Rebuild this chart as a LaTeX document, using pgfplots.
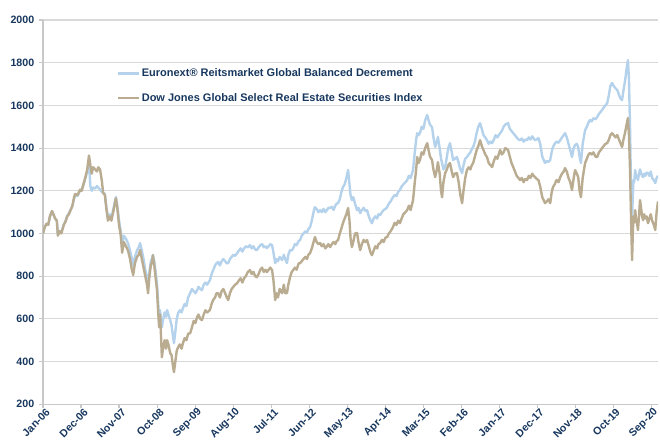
\documentclass[border=0pt]{standalone}
\usepackage{fontspec}
\setmainfont{Liberation Sans}
\usepackage{pgfplots}
\pgfplotsset{compat=1.18}
\definecolor{navy}{RGB}{23,55,94}
\definecolor{eublue}{RGB}{180,210,235}
\definecolor{djtan}{RGB}{185,172,145}
\definecolor{gridgray}{RGB}{217,217,217}
\definecolor{axgray}{RGB}{200,200,200}
\begin{document}
\begin{tikzpicture}
\begin{axis}[
  name=ax,
  scale only axis,
  width=461pt, height=288pt,
  xmin=0, xmax=178, ymin=200, ymax=2000,
  axis x line=bottom, axis y line=left,
  axis line style={-, axgray, line width=1pt},
  tick style={axgray, line width=0.8pt},
  tick align=outside, major tick length=3pt,
  ytick={200,400,...,2000},
  xtick={0,11,...,176},
  xticklabels={Jan-06,Dec-06,Nov-07,Oct-08,Sep-09,Aug-10,Jul-11,Jun-12,May-13,Apr-14,Mar-15,Feb-16,Jan-17,Dec-17,Nov-18,Oct-19,Sep-20},
  xticklabel style={rotate=45, anchor=east, inner sep=1pt, xshift=2.5pt, yshift=-4pt},
  ymajorgrids, major grid style={gridgray, line width=0.8pt},
  /pgf/number format/assume math mode=true,
  /pgf/number format/1000 sep={},
  tick label style={font=\bfseries\fontsize{8}{9}\selectfont, text=navy},
  legend style={at={(rel axis cs:0.12,0.878)}, anchor=north west, draw=none, fill=none,
    font=\bfseries\fontsize{8.25}{9}\selectfont, text=navy, row sep=9pt, inner sep=0pt,
    nodes={inner sep=1pt}},
  legend cell align=left,
  legend image code/.code={\draw[#1, line width=1.6pt] (0cm,0cm) -- (0.56cm,0cm);},
  every axis plot/.append style={line width=1.8pt, line join=round},
]
\addplot[eublue] coordinates {
(0,1000) (0.5,1030) (1,1045) (1.5,1040) (2,1080) (2.6,1105) (3,1090) (3.5,1070) (4,1060) (4.3,992) (4.8,1012) (5.3,1004)
(6,1042) (6.5,1058) (7,1082) (7.5,1094) (8,1112) (8.5,1128) (9,1165) (9.3,1175) (10,1176) (10.7,1200) (11.2,1205) (11.7,1228)
(12.2,1255) (12.8,1290) (13.3,1335) (13.7,1220) (14.1,1200) (14.5,1215) (15.1,1210) (15.6,1222) (16,1215) (16.5,1205) (17,1195)
(17.4,1190) (17.9,1185) (18.3,1130) (18.8,1070) (19.3,1090) (19.8,1075) (20.3,1110) (20.8,1150) (21.1,1170) (21.5,1130)
(22,1060) (22.5,1010) (22.9,950) (23.4,990) (24,975) (24.6,955) (25.2,920) (25.6,890) (26.1,850) (26.6,890) (27.2,920)
(27.7,935) (28.1,955) (28.6,920) (29.1,880) (29.6,830) (30.1,790) (30.4,760) (30.8,820) (31.2,870) (31.6,884) (31.8,900)
(32.2,870) (32.6,820) (33.0,760) (33.3,680) (33.6,608) (33.9,640) (34.1,600) (34.4,561) (34.8,600) (35.2,630) (35.6,610)
(35.9,641) (36.3,620) (36.8,594) (37.2,570) (37.6,520) (37.9,486) (38.3,540) (38.7,600) (39.1,627) (39.6,640) (40.1,630)
(40.5,650) (41,670) (41.5,660) (42,700) (42.6,720) (43.1,740) (43.6,730) (44.1,720) (44.6,734) (45,750) (45.5,740) (46,734)
(46.5,760) (47,770) (47.5,760) (48.3,781) (48.8,810) (49.3,830) (49.8,850) (50.2,860) (50.7,866) (51.2,850) (51.7,870)
(52.2,880) (52.7,870) (53.2,860) (53.6,861) (54.1,880) (54.6,890) (55.1,900) (55.6,895) (56.2,908) (56.7,920) (57.2,930)
(57.7,915) (58.2,930) (58.7,940) (59.3,935) (59.9,945) (60.4,930) (60.9,940) (61.4,925) (61.9,922) (62.4,935) (62.9,945)
(63.4,950) (63.9,935) (64.4,940) (64.8,931) (65.3,940) (65.8,950) (66.3,945) (66.7,910) (67.2,861) (67.6,880) (68,870)
(68.5,890) (69.2,875) (69.7,900) (70.1,880) (70.6,861) (71,900) (71.5,922) (72,920) (72.4,930) (72.9,950) (73.4,945)
(74,965) (74.4,969) (74.9,990) (75.4,1000) (75.9,1010) (76.4,1005) (76.8,1020) (77.3,1030) (77.8,1060) (78.3,1100)
(78.7,1123) (79.2,1115) (79.7,1100) (80.2,1109) (80.7,1100) (81.2,1115) (81.7,1100) (82.2,1110) (82.6,1120) (83.1,1119)
(83.6,1125) (84.1,1110) (84.6,1130) (85,1140) (85.4,1142) (85.9,1160) (86.3,1190) (86.8,1217) (87.3,1230) (87.8,1260)
(88.3,1297) (88.7,1230) (89,1180) (89.4,1156) (89.8,1170) (90.3,1140) (90.9,1109) (91.3,1120) (91.8,1095) (92.3,1110)
(92.8,1120) (93.3,1105) (93.8,1109) (94.3,1080) (94.8,1060) (95.2,1048) (95.7,1070) (96.2,1080) (96.7,1070) (97.1,1090)
(97.6,1086) (98.1,1100) (98.6,1110) (99.1,1115) (99.6,1123) (100.1,1140) (100.6,1150) (101.3,1170) (101.8,1180)
(102.3,1175) (102.8,1195) (103.3,1203) (103.8,1220) (104.3,1230) (104.9,1240) (105.4,1250) (105.9,1270) (106.4,1260)
(107.1,1297) (107.6,1380) (108,1440) (108.3,1470) (108.7,1460) (109.1,1470) (109.6,1500) (110.1,1490) (110.6,1530)
(111.2,1555) (111.6,1530) (112,1510) (112.6,1498) (113,1450) (113.5,1405) (114,1430) (114.3,1452) (114.8,1400)
(115.2,1350) (115.5,1330) (115.9,1300) (116.4,1311) (116.9,1360) (117.3,1400) (117.8,1423) (118.3,1380) (118.7,1344)
(119.2,1350) (119.8,1358) (120.3,1330) (120.8,1300) (121.3,1283) (121.7,1320) (122.2,1350) (122.7,1358) (123.2,1370)
(123.7,1380) (124.1,1395) (124.5,1405) (125,1430) (125.5,1470) (126,1500) (126.5,1517) (127,1490) (127.5,1460)
(128,1450) (128.5,1437) (129,1420) (129.5,1430) (130,1423) (130.5,1440) (131,1460) (131.5,1450) (132.3,1470)
(132.8,1480) (133.3,1500) (133.8,1510) (134.6,1517) (135.1,1490) (135.6,1480) (136.1,1470) (136.6,1460) (137.1,1450)
(137.6,1440) (138.1,1437) (138.6,1445) (139.1,1430) (139.6,1440) (140.1,1437) (140.6,1450) (141.1,1440) (141.6,1455)
(142,1445) (142.4,1437) (142.9,1440) (143.4,1447) (143.9,1420) (144.5,1360) (145.3,1330) (145.8,1340) (146.3,1335)
(146.8,1344) (147.2,1380) (147.6,1405) (148.1,1420) (148.6,1430) (149.2,1425) (149.7,1437) (150.2,1450) (150.7,1460)
(151.1,1470) (151.6,1450) (152.1,1420) (152.6,1390) (153.1,1358) (153.6,1400) (154.0,1414) (154.5,1420) (154.9,1405)
(155.3,1360) (155.7,1330) (156.2,1420) (156.9,1484) (157.4,1500) (157.9,1520) (158.3,1531) (158.8,1525) (159.3,1540)
(159.9,1535) (160.4,1545) (160.9,1560) (161.4,1570) (161.8,1578) (162.3,1590) (162.8,1600) (163.3,1611) (163.8,1650)
(164.2,1690) (164.7,1705) (165.2,1690) (165.7,1680) (166.2,1672) (166.7,1650) (167.2,1630) (167.6,1625) (168.0,1670)
(168.5,1719) (168.9,1770) (169.3,1812) (169.6,1720) (169.9,1500) (170.1,1300) (170.3,1150) (170.5,1060) (170.7,1180)
(170.9,1250) (171.1,1240) (171.4,1297) (171.7,1260) (172.0,1270) (172.2,1250) (172.5,1280) (172.8,1300) (173.1,1283)
(173.4,1270) (173.7,1264) (174.0,1280) (174.3,1270) (174.7,1285) (175.1,1283) (175.5,1270) (175.9,1290) (176.3,1260)
(176.8,1250) (177.2,1236) (177.6,1260) (178.0,1270)
};
\addlegendentry{Euronext\textregistered{} Reitsmarket Global Balanced Decrement}
\addplot[djtan] coordinates {
(0,1000) (0.5,1030) (1,1045) (1.5,1040) (2,1080) (2.6,1105) (3,1090) (3.5,1070) (4,1060) (4.3,990) (4.8,1010) (5.3,1000)
(6,1040) (6.5,1055) (7,1080) (7.5,1090) (8,1110) (8.5,1130) (9,1170) (9.3,1185) (10,1180) (10.7,1205) (11.2,1200) (11.7,1230)
(12.2,1260) (12.8,1300) (13.3,1365) (13.7,1320) (14.1,1280) (14.5,1310) (15.1,1300) (15.6,1290) (16,1310) (16.5,1300)
(17,1250) (17.4,1190) (17.9,1180) (18.3,1120) (18.8,1060) (19.3,1080) (19.8,1060) (20.3,1100) (20.8,1140) (21.1,1165)
(21.5,1120) (22,1040) (22.5,990) (22.9,910) (23.4,960) (24,940) (24.6,920) (25.2,880) (25.6,840) (26.1,805) (26.6,860)
(27.2,890) (27.7,900) (28.1,922) (28.6,880) (29.1,840) (29.6,800) (30.1,760) (30.4,720) (30.8,800) (31.2,850) (31.6,870)
(31.8,898) (32.2,850) (32.6,790) (33.0,734) (33.3,640) (33.6,561) (33.9,620) (34.1,540) (34.4,420) (34.8,470) (35.2,500)
(35.6,460) (35.9,500) (36.3,480) (36.8,440) (37.2,430) (37.6,380) (37.9,350) (38.3,400) (38.7,450) (39.1,467) (39.6,480)
(40.1,460) (40.5,486) (41,510) (41.5,500) (42,530) (42.6,533) (43.1,560) (43.6,590) (44.1,580) (44.6,608) (45,620)
(45.5,600) (46,594) (46.5,620) (47,640) (47.5,630) (48.3,641) (48.8,670) (49.3,690) (49.8,700) (50.2,720) (50.7,720)
(51.2,700) (51.7,730) (52.2,740) (52.7,720) (53.2,700) (53.6,688) (54.1,720) (54.6,740) (55.1,750) (55.6,760) (56.2,767)
(56.7,780) (57.2,790) (57.7,770) (58.2,790) (58.7,800) (59.3,820) (59.9,828) (60.4,810) (60.9,820) (61.4,800) (61.9,795)
(62.4,810) (62.9,830) (63.4,840) (63.9,820) (64.4,830) (64.8,819) (65.3,830) (65.8,840) (66.3,828) (66.7,780) (67.2,688)
(67.6,720) (68,700) (68.5,740) (69.2,720) (69.7,760) (70.1,720) (70.6,720) (71,760) (71.5,795) (72,820) (72.4,828)
(72.9,840) (73.4,830) (74,860) (74.4,861) (74.9,870) (75.4,880) (75.9,890) (76.4,880) (76.8,900) (77.3,908) (77.8,930)
(78.3,960) (78.7,983) (79.2,960) (79.7,950) (80.2,955) (80.7,940) (81.2,950) (81.7,930) (82.2,940) (82.6,950) (83.1,936)
(83.6,950) (84.1,960) (84.6,950) (85,965) (85.4,969) (85.9,1000) (86.3,1020) (86.8,1048) (87.3,1070) (87.8,1090)
(88.3,1119) (88.7,1060) (89,980) (89.4,936) (89.8,960) (90.3,1000) (90.9,1002) (91.3,960) (91.8,922) (92.3,950) (92.8,970)
(93.3,960) (93.8,969) (94.3,940) (94.8,910) (95.2,898) (95.7,920) (96.2,940) (96.7,930) (97.1,950) (97.6,955) (98.1,970)
(98.6,960) (99.1,980) (99.6,983) (100.1,1000) (100.6,1010) (101.3,1030) (101.8,1050) (102.3,1040) (102.8,1060)
(103.3,1048) (103.8,1070) (104.3,1090) (104.9,1100) (105.4,1109) (105.9,1130) (106.4,1110) (107.1,1156) (107.6,1240)
(108,1300) (108.3,1358) (108.7,1330) (109.1,1344) (109.6,1380) (110.1,1370) (110.6,1400) (111.2,1423) (111.6,1390)
(112,1360) (112.6,1344) (113,1300) (113.5,1264) (114,1300) (114.3,1334) (114.8,1280) (115.2,1200) (115.5,1170)
(115.9,1240) (116.4,1283) (116.9,1300) (117.3,1320) (117.8,1330) (118.3,1290) (118.7,1264) (119.2,1280) (119.8,1283)
(120.3,1240) (120.8,1180) (121.3,1142) (121.7,1200) (122.2,1260) (122.7,1297) (123.2,1310) (123.7,1300) (124.1,1320)
(124.5,1330) (125,1360) (125.5,1390) (126,1410) (126.5,1437) (127,1410) (127.5,1390) (128,1370) (128.5,1358) (129,1330)
(129.5,1320) (130,1311) (130.5,1340) (131,1360) (131.5,1350) (132.3,1391) (132.8,1370) (133.3,1380) (133.8,1400)
(134.6,1391) (135.1,1360) (135.6,1330) (136.1,1311) (136.6,1290) (137.1,1270) (137.6,1260) (138.1,1250) (138.6,1260)
(139.1,1240) (139.6,1255) (140.1,1250) (140.6,1270) (141.1,1260) (141.6,1280) (142,1270) (142.4,1264) (142.9,1255)
(143.4,1250) (143.9,1220) (144.5,1170) (145.3,1142) (145.8,1150) (146.3,1160) (146.8,1142) (147.2,1190) (147.6,1217)
(148.1,1230) (148.6,1250) (149.2,1240) (149.7,1264) (150.2,1280) (150.7,1290) (151.1,1306) (151.6,1290) (152.1,1260)
(152.6,1240) (153.1,1203) (153.6,1260) (154.0,1297) (154.5,1280) (154.9,1264) (155.3,1200) (155.7,1170) (156.2,1260)
(156.9,1330) (157.4,1350) (157.9,1370) (158.3,1377) (158.8,1370) (159.3,1380) (159.9,1360) (160.4,1358) (160.9,1380)
(161.4,1390) (161.8,1400) (162.3,1410) (162.8,1420) (163.3,1423) (163.8,1440) (164.2,1460) (164.7,1470) (165.2,1460)
(165.7,1450) (166.2,1461) (166.7,1440) (167.2,1420) (167.6,1405) (168.0,1440) (168.5,1475) (168.9,1510) (169.3,1541)
(169.6,1460) (169.9,1300) (170.1,1150) (170.3,1000) (170.5,875) (170.7,1000) (170.9,1080) (171.1,1050) (171.4,1109)
(171.7,1060) (172.0,1040) (172.2,1016) (172.5,1080) (172.8,1156) (173.1,1120) (173.4,1080) (173.7,1062) (174.0,1090)
(174.3,1070) (174.7,1080) (175.1,1048) (175.5,1070) (175.9,1090) (176.3,1060) (176.8,1040) (177.2,1016) (177.6,1100)
(178.0,1150)
};
\addlegendentry{Dow Jones Global Select Real Estate Securities Index}
\end{axis}
\pgfresetboundingbox
\path[use as bounding box] ([xshift=-32.25pt,yshift=-27.75pt]ax.south west) rectangle ([xshift=1.5pt,yshift=15pt]ax.north east);
\end{tikzpicture}
\end{document}
